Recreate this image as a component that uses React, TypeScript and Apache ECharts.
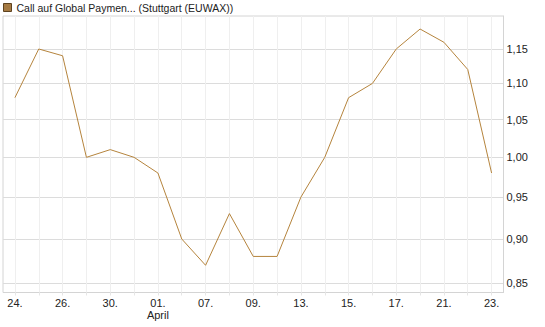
import React, { useEffect, useRef } from "react";
import * as echarts from "echarts";

const categories = [
  "24.", "25.", "26.", "27.", "30.", "31.", "01.", "02.", "07.", "08.", "09.",
  "10.", "13.", "14.", "15.", "16.", "17.", "18.", "21.", "22.", "23.",
];
const prices = [
  1.08, 1.15, 1.14, 1.0, 1.01, 1.0, 0.98, 0.9, 0.87, 0.93, 0.88,
  0.88, 0.95, 1.0, 1.08, 1.1, 1.15, 1.18, 1.16, 1.12, 0.98,
];
const yTicks = [0.85, 0.9, 0.95, 1.0, 1.05, 1.1, 1.15];
const seriesName = "Call auf Global Paymen... (Stuttgart (EUWAX))";

export default function App() {
  const ref = useRef<HTMLDivElement>(null);
  useEffect(() => {
    if (!ref.current) return;
    const chart = echarts.init(ref.current, undefined, { renderer: "svg" });
    chart.setOption({
      animation: false,
      textStyle: { fontFamily: "Liberation Sans, Arial, sans-serif" },
      legend: {
        show: true,
        left: 3,
        top: 2,
        padding: 0,
        icon: "rect",
        itemWidth: 8,
        itemHeight: 8,
        textStyle: { fontSize: 10.5, color: "#222" },
        data: [{ name: seriesName, itemStyle: { borderColor: "#5e4320", borderWidth: 1 } }],
      },
      grid: {
        left: 3,
        right: 41.5,
        top: 16,
        bottom: 34.5,
        show: true,
        borderColor: "#d4d4d4",
        borderWidth: 1,
        containLabel: false,
      },
      xAxis: {
        type: "category",
        data: categories,
        boundaryGap: true,
        axisLine: { show: false },
        axisTick: { show: true, alignWithLabel: true, interval: 0, length: 3, lineStyle: { color: "#e6e6e6" } },
        splitLine: { show: true, alignWithLabel: true, interval: 0, lineStyle: { color: "#efefef", width: 1 } },
        axisLabel: {
          interval: 1,
          margin: 4,
          fontSize: 11,
          color: "#222",
          lineHeight: 12,
          formatter: (v: string) => (v === "01." ? "01.\nApril" : v),
        },
      },
      yAxis: {
        type: "log",
        position: "right",
        min: 0.84,
        max: 1.2,
        axisLine: { show: true, lineStyle: { color: "#d4d4d4" } },
        axisTick: { show: false, customValues: yTicks },
        splitLine: { show: true, lineStyle: { color: "#dcdcdc", width: 1 } },
        axisLabel: {
          customValues: yTicks,
          margin: 3,
          fontSize: 11,
          color: "#222",
          formatter: (v: number) => v.toFixed(2).replace(".", ","),
        },
      },
      series: [
        {
          name: seriesName,
          type: "line",
          data: prices,
          showSymbol: false,
          symbol: "none",
          color: "#a57a43",
          lineStyle: { color: "#b5843d", width: 1 },
        },
      ],
    });
    return () => chart.dispose();
  }, []);
  return <div ref={ref} style={{ width: 545, height: 327, position: "absolute", left: 0, top: 0 }} />;
}
